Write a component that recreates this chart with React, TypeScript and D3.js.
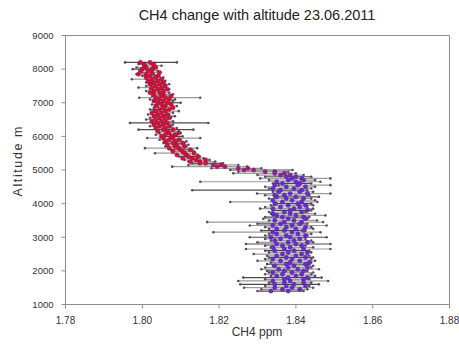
import React from "react";
import * as d3 from "d3";

const altitudeM = [
  8200, 8150, 8100, 8050, 8000, 7950, 7900, 7850, 7800, 7750,
  7700, 7650, 7600, 7550, 7500, 7450, 7400, 7350, 7300, 7250,
  7200, 7150, 7100, 7050, 7000, 6950, 6900, 6850, 6800, 6750,
  6700, 6650, 6600, 6550, 6500, 6450, 6400, 6350, 6300, 6250,
  6200, 6150, 6100, 6050, 6000, 5950, 5900, 5850, 5800, 5750,
  5700, 5650, 5600, 5550, 5500, 5450, 5400, 5350, 5300, 5250,
  5200, 5150, 5100, 5050, 5000, 4950, 4900, 4850, 4800, 4750,
  4700, 4650, 4600, 4550, 4500, 4450, 4400, 4350, 4300, 4250,
  4200, 4150, 4100, 4050, 4000, 3950, 3900, 3850, 3800, 3750,
  3700, 3650, 3600, 3550, 3500, 3450, 3400, 3350, 3300, 3250,
  3200, 3150, 3100, 3050, 3000, 2950, 2900, 2850, 2800, 2750,
  2700, 2650, 2600, 2550, 2500, 2450, 2400, 2350, 2300, 2250,
  2200, 2150, 2100, 2050, 2000, 1950, 1900, 1850, 1800, 1750,
  1700, 1650, 1600, 1550, 1500, 1450, 1400,
];

const meanPpm = [
  1.8020, 1.8005, 1.8030, 1.8010, 1.8000, 1.8015, 1.8025, 1.8010, 1.8020, 1.8035,
  1.8025, 1.8040, 1.8030, 1.8045, 1.8035, 1.8050, 1.8040, 1.8030, 1.8045, 1.8055,
  1.8050, 1.8060, 1.8045, 1.8055, 1.8065, 1.8050, 1.8060, 1.8055, 1.8045, 1.8060,
  1.8050, 1.8040, 1.8055, 1.8045, 1.8035, 1.8050, 1.8040, 1.8055, 1.8045, 1.8060,
  1.8055, 1.8065, 1.8070, 1.8060, 1.8075, 1.8080, 1.8070, 1.8085, 1.8080, 1.8090,
  1.8085, 1.8095, 1.8100, 1.8105, 1.8110, 1.8115, 1.8120, 1.8130, 1.8140, 1.8150,
  1.8165, 1.8185, 1.8215, 1.8250, 1.8290, 1.8320, 1.8345, 1.8360, 1.8375, 1.8390,
  1.8380, 1.8400, 1.8365, 1.8405, 1.8375, 1.8395, 1.8360, 1.8410, 1.8385, 1.8370,
  1.8400, 1.8375, 1.8390, 1.8365, 1.8405, 1.8380, 1.8360, 1.8395, 1.8385, 1.8370,
  1.8385, 1.8400, 1.8365, 1.8380, 1.8395, 1.8370, 1.8360, 1.8390, 1.8375, 1.8400,
  1.8370, 1.8390, 1.8405, 1.8375, 1.8385, 1.8360, 1.8395, 1.8380, 1.8400, 1.8365,
  1.8385, 1.8370, 1.8395, 1.8380, 1.8365, 1.8400, 1.8375, 1.8390, 1.8360, 1.8385,
  1.8375, 1.8395, 1.8380, 1.8405, 1.8370, 1.8390, 1.8365, 1.8400, 1.8380, 1.8370,
  1.8385, 1.8370, 1.8395, 1.8375, 1.8390, 1.8365, 1.8380,
];

const secondPpm = [
  1.7995, 1.8030, 1.8005, 1.8035, 1.8025, 1.7995, 1.8045, 1.7990, 1.8040, 1.8010,
  1.8050, 1.8015, 1.8055, 1.8020, 1.8060, 1.8025, 1.8065, 1.8055, 1.8020, 1.8030,
  1.8075, 1.8035, 1.8070, 1.8030, 1.8040, 1.8075, 1.8035, 1.8080, 1.8070, 1.8035,
  1.8025, 1.8065, 1.8030, 1.8070, 1.8060, 1.8025, 1.8065, 1.8030, 1.8070, 1.8035,
  1.8080, 1.8040, 1.8095, 1.8085, 1.8050, 1.8055, 1.8095, 1.8060, 1.8105, 1.8065,
  1.8110, 1.8070, 1.8125, 1.8080, 1.8135, 1.8090, 1.8145, 1.8105, 1.8165, 1.8125,
  1.8150, 1.8205, 1.8195, 1.8275, 1.8265, 1.8345, 1.8370, 1.8385, 1.8400, 1.8415,
  1.8420, 1.8350, 1.8410, 1.8345, 1.8425, 1.8340, 1.8415, 1.8355, 1.8430, 1.8345,
  1.8350, 1.8420, 1.8340, 1.8415, 1.8345, 1.8425, 1.8410, 1.8340, 1.8430, 1.8415,
  1.8340, 1.8350, 1.8420, 1.8425, 1.8345, 1.8415, 1.8410, 1.8340, 1.8425, 1.8350,
  1.8420, 1.8340, 1.8350, 1.8425, 1.8335, 1.8410, 1.8345, 1.8430, 1.8350, 1.8415,
  1.8340, 1.8420, 1.8345, 1.8430, 1.8415, 1.8350, 1.8425, 1.8340, 1.8410, 1.8435,
  1.8425, 1.8345, 1.8430, 1.8355, 1.8420, 1.8340, 1.8415, 1.8350, 1.8430, 1.8420,
  1.8340, 1.8420, 1.8345, 1.8425, 1.8345, 1.8410, 1.8335,
];

const minPpm = [
  1.7955, 1.7990, 1.8010, 1.7985, 1.7975, 1.7995, 1.8000, 1.7985, 1.8000, 1.8010,
  1.7973, 1.8020, 1.8010, 1.8025, 1.8010, 1.7990, 1.8020, 1.8010, 1.8025, 1.8030,
  1.8025, 1.7992, 1.8020, 1.8035, 1.8040, 1.8025, 1.8040, 1.8030, 1.8020, 1.8030,
  1.8025, 1.8015, 1.8030, 1.8020, 1.8010, 1.8025, 1.7968, 1.8030, 1.8020, 1.8035,
  1.7990, 1.8040, 1.8045, 1.8035, 1.8050, 1.8013, 1.8045, 1.8060, 1.8055, 1.8065,
  1.8060, 1.8007, 1.8075, 1.8080, 1.8033, 1.8090, 1.8095, 1.8105, 1.8110, 1.8120,
  1.8130, 1.8120, 1.8078, 1.8180, 1.8229, 1.8250, 1.8237, 1.8300, 1.8320, 1.8307,
  1.8330, 1.8151, 1.8340, 1.8355, 1.8320, 1.8330, 1.8130, 1.8340, 1.8299, 1.8320,
  1.8345, 1.8330, 1.8340, 1.8229, 1.8350, 1.8335, 1.8320, 1.8307, 1.8340, 1.8330,
  1.8335, 1.8341, 1.8320, 1.8315, 1.8330, 1.8169, 1.8300, 1.8280, 1.8320, 1.8330,
  1.8310, 1.8185, 1.8330, 1.8320, 1.8280, 1.8320, 1.8335, 1.8300, 1.8270, 1.8320,
  1.8335, 1.8270, 1.8320, 1.8330, 1.8290, 1.8325, 1.8330, 1.8320, 1.8300, 1.8335,
  1.8325, 1.8340, 1.8320, 1.8310, 1.8325, 1.8330, 1.8320, 1.8335, 1.8263, 1.8320,
  1.8250, 1.8330, 1.8255, 1.8320, 1.8265, 1.8310, 1.8300,
];

const maxPpm = [
  1.8090, 1.8025, 1.8050, 1.8030, 1.8030, 1.8040, 1.8045, 1.8030, 1.8045, 1.8055,
  1.8052, 1.8060, 1.8050, 1.8070, 1.8060, 1.8054, 1.8070, 1.8055, 1.8070, 1.8080,
  1.8075, 1.8151, 1.8085, 1.8080, 1.8100, 1.8075, 1.8090, 1.8080, 1.8070, 1.8095,
  1.8080, 1.8070, 1.8085, 1.8075, 1.8060, 1.8080, 1.8172, 1.8080, 1.8075, 1.8090,
  1.8133, 1.8095, 1.8100, 1.8090, 1.8105, 1.8151, 1.8100, 1.8115, 1.8110, 1.8120,
  1.8115, 1.8143, 1.8130, 1.8135, 1.8133, 1.8145, 1.8150, 1.8160, 1.8175, 1.8190,
  1.8210, 1.8250, 1.8273, 1.8310, 1.8391, 1.8380, 1.8400, 1.8420, 1.8440, 1.8490,
  1.8450, 1.8464, 1.8440, 1.8490, 1.8450, 1.8440, 1.8430, 1.8445, 1.8490, 1.8435,
  1.8460, 1.8440, 1.8450, 1.8456, 1.8440, 1.8445, 1.8430, 1.8445, 1.8440, 1.8425,
  1.8450, 1.8477, 1.8435, 1.8430, 1.8455, 1.8471, 1.8430, 1.8480, 1.8440, 1.8445,
  1.8425, 1.8464, 1.8440, 1.8430, 1.8480, 1.8425, 1.8440, 1.8445, 1.8490, 1.8425,
  1.8445, 1.8490, 1.8435, 1.8440, 1.8430, 1.8435, 1.8445, 1.8440, 1.8450, 1.8440,
  1.8435, 1.8445, 1.8440, 1.8460, 1.8430, 1.8445, 1.8440, 1.8450, 1.8467, 1.8435,
  1.8484, 1.8440, 1.8460, 1.8435, 1.8445, 1.8430, 1.8420,
];

const altitudeTicks = [1000, 2000, 3000, 4000, 5000, 6000, 7000, 8000, 9000];
const ch4Ticks = [1.78, 1.8, 1.82, 1.84, 1.86, 1.88];
const chartTitle = "CH4 change with altitude 23.06.2011";
const xLabel = "CH4 ppm";
const yLabel = "Altitude m";

const FONT = "'Liberation Sans', Arial, sans-serif";

export default function App() {
  const W = 459;
  const H = 354;
  const left = 65.5;
  const right = 449.5;
  const top = 35.5;
  const bottom = 304.5;

  const x = d3.scaleLinear().domain([1.78, 1.88]).range([left, right]);
  const y = d3.scaleLinear().domain([1000, 9000]).range([bottom, top]);
  const color = d3
    .scaleLinear<string>()
    .domain([4750, 5250])
    .range(["#6a2ccc", "#d3123e"])
    .interpolate(d3.interpolateRgb)
    .clamp(true);

  const rows = altitudeM.map((a, i) => ({
    a,
    mean: meanPpm[i],
    second: secondPpm[i],
    lo: minPpm[i],
    hi: maxPpm[i],
  }));

  return (
    <svg
      width={W}
      height={H}
      style={{ position: "absolute", left: 0, top: 0, background: "#fff" }}
      fontFamily={FONT}
    >
      <rect x={0} y={0} width={W} height={H} fill="#fff" />
      <text x={257} y={20} textAnchor="middle" fontSize={14.5} fill="#222">
        {chartTitle}
      </text>

      {/* frame */}
      <path
        d={`M${left},${top}H${right}V${bottom}`}
        fill="none"
        stroke="#8c8c8c"
        strokeWidth={1}
      />

      {/* error bars */}
      <g>
        {rows.map((r, i) => (
          <line
            key={"b" + i}
            x1={x(r.lo)}
            x2={x(r.hi)}
            y1={y(r.a)}
            y2={y(r.a)}
            stroke={i % 4 === 0 ? "#4a4a4a" : "#9a9a9a"}
            strokeWidth={1.2}
          />
        ))}
        {rows.map((r, i) => (
          <g key={"e" + i}>
            <circle cx={x(r.lo)} cy={y(r.a)} r={1.3} fill="#5a4a6a" />
            <circle cx={x(r.hi)} cy={y(r.a)} r={1.3} fill="#5a4a6a" />
          </g>
        ))}
      </g>

      {/* colored markers */}
      <g>
        {rows.map((r, i) => {
          const c = color(r.a);
          const s = d3.color(c)!.darker(0.8).formatHex();
          return (
            <g key={"m" + i}>
              <circle cx={x(r.second)} cy={y(r.a)} r={2.1} fill={c} stroke={s} strokeWidth={0.5} />
              <circle cx={x(r.mean)} cy={y(r.a)} r={2.1} fill={c} stroke={s} strokeWidth={0.5} />
            </g>
          );
        })}
      </g>

      {/* y axis */}
      <line x1={left} x2={left} y1={top} y2={bottom} stroke="#8c8c8c" />
      {altitudeTicks.map((t) => (
        <g key={"yt" + t}>
          <line x1={left - 4} x2={left} y1={y(t)} y2={y(t)} stroke="#8c8c8c" />
          <text
            x={left - 12}
            y={y(t)}
            dy="0.35em"
            textAnchor="end"
            fontSize={9.5}
            fill="#333"
          >
            {t}
          </text>
        </g>
      ))}

      {/* x axis */}
      <line x1={left} x2={right} y1={bottom} y2={bottom} stroke="#8c8c8c" />
      {ch4Ticks.map((t) => (
        <g key={"xt" + t}>
          <line x1={x(t)} x2={x(t)} y1={bottom} y2={bottom + 4} stroke="#8c8c8c" />
          <text x={x(t)} y={bottom + 19} textAnchor="middle" fontSize={10} fill="#333">
            {d3.format(".2f")(t)}
          </text>
        </g>
      ))}

      <text x={257} y={336} textAnchor="middle" fontSize={12} fill="#333">
        {xLabel}
      </text>
      <text
        transform={`translate(21.5,161.5) rotate(-90)`}
        textAnchor="middle"
        fontSize={12.5}
        textLength={70}
        lengthAdjust="spacing"
        fill="#333"
      >
        {yLabel}
      </text>
    </svg>
  );
}
